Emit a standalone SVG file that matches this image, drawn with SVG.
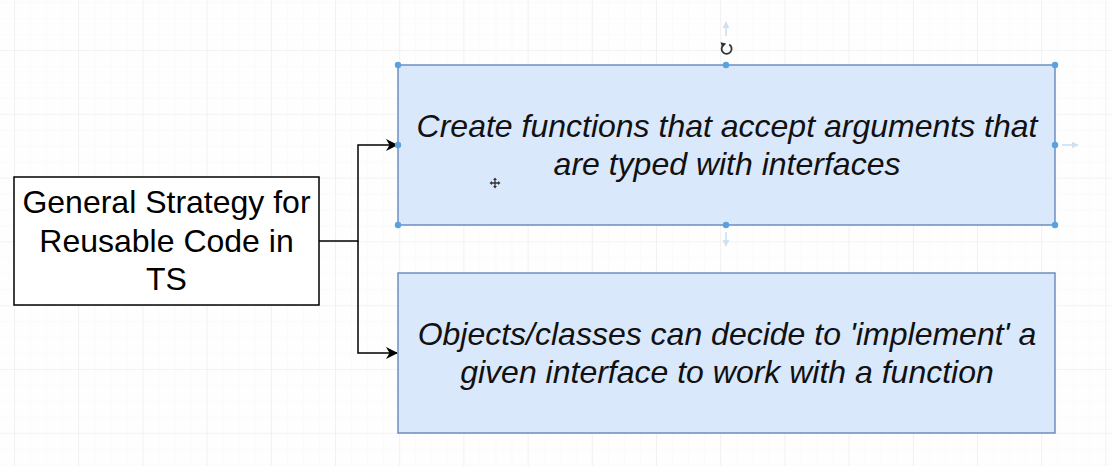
<svg xmlns="http://www.w3.org/2000/svg" width="1112" height="466" viewBox="0 0 1112 466">
  <defs>
    <pattern id="minor" x="14" y="50" width="16.05" height="15.95" patternUnits="userSpaceOnUse">
      <path d="M0 0 H16.05 M0 0 V15.95" fill="none" stroke="#f7f7f7" stroke-width="1"/>
    </pattern>
    <pattern id="major" x="14" y="50" width="64.2" height="63.8" patternUnits="userSpaceOnUse">
      <path d="M0 0 H64.2 M0 0 V63.8" fill="none" stroke="#ebebeb" stroke-width="1.2"/>
    </pattern>
    <marker id="arrow" viewBox="0 0 12 12" refX="11" refY="6" markerWidth="12" markerHeight="12" markerUnits="userSpaceOnUse" orient="auto">
      <path d="M0 0 L12 6 L0 12 L3.5 6 Z" fill="#000"/>
    </marker>
    <marker id="ghost" viewBox="0 0 10 10" refX="9" refY="5" markerWidth="7" markerHeight="7" markerUnits="userSpaceOnUse" orient="auto">
      <path d="M0 0 L10 5 L0 10 Z" fill="#cfe0f2"/>
    </marker>
  </defs>
  <style>
    .box { fill: #ffffff; stroke: #000000; stroke-width: 1.5; }
    .blue { fill: #dae8fc; stroke: #6c8ebf; stroke-width: 1.5; }
    .lbl { font-family: "Liberation Sans", Arial, Helvetica, sans-serif; font-size: 32px; fill: #000; text-anchor: middle; }
    .it { font-style: italic; fill: #111; }
    .edge { fill: none; stroke: #000; stroke-width: 1.5; }
    .handle { fill: #5aa2de; }
    .ghostline { stroke: #d6e4f3; stroke-width: 2; fill: none; }
  </style>

  <rect width="1112" height="466" fill="#fefefe"/>
  <rect width="1112" height="466" fill="url(#minor)"/>
  <rect width="1112" height="466" fill="url(#major)"/>

  <g id="connectors">
    <path class="edge" d="M319 241 H358 V145 H397" marker-end="url(#arrow)"/>
    <path class="edge" d="M358 241 V353 H397" marker-end="url(#arrow)"/>
  </g>

  <g id="node-strategy">
    <rect class="box" x="14" y="177" width="305" height="128"/>
    <text class="lbl" x="166.5" y="213">General Strategy for</text>
    <text class="lbl" x="166.5" y="252">Reusable Code in</text>
    <text class="lbl" x="166.5" y="290">TS</text>
  </g>

  <g id="node-functions">
    <rect class="blue" x="398" y="65" width="657" height="160"/>
    <text class="lbl it" x="727" y="137">Create functions that accept arguments that</text>
    <text class="lbl it" x="727" y="175">are typed with interfaces</text>
  </g>

  <g id="node-implement">
    <rect class="blue" x="398" y="273" width="657" height="160"/>
    <text class="lbl it" x="727" y="345">Objects/classes can decide to 'implement' a</text>
    <text class="lbl it" x="727" y="383">given interface to work with a function</text>
  </g>

  <g id="selection-overlay">
    <path class="ghostline" d="M726 36 V22" marker-end="url(#ghost)"/>
    <path class="ghostline" d="M1062 145 H1078" marker-end="url(#ghost)"/>
    <path class="ghostline" d="M726 232 V246" marker-end="url(#ghost)"/>
    <path d="M729.3 44.6 A5 5 0 1 1 723.5 44.9" fill="none" stroke="#333" stroke-width="1.8"/>
    <path d="M720.5 42.2 L726.2 43.6 L722.3 47.8 Z" fill="#333"/>
    <circle class="handle" cx="398" cy="65" r="3.2"/>
    <circle class="handle" cx="726" cy="65" r="3.2"/>
    <circle class="handle" cx="1055" cy="65" r="3.2"/>
    <circle class="handle" cx="398" cy="145" r="3.2"/>
    <circle class="handle" cx="1055" cy="145" r="3.2"/>
    <circle class="handle" cx="398" cy="225" r="3.2"/>
    <circle class="handle" cx="726" cy="225" r="3.2"/>
    <circle class="handle" cx="1055" cy="225" r="3.2"/>
    <g transform="translate(495 183)" fill="#333" stroke="#333">
      <path d="M-4 0 H4 M0 -4 V4" stroke-width="1.3" fill="none"/>
      <path d="M-5.5 0 L-3 -2 L-3 2 Z M5.5 0 L3 -2 L3 2 Z M0 -5.5 L-2 -3 L2 -3 Z M0 5.5 L-2 3 L2 3 Z" stroke="none"/>
    </g>
  </g>
</svg>
